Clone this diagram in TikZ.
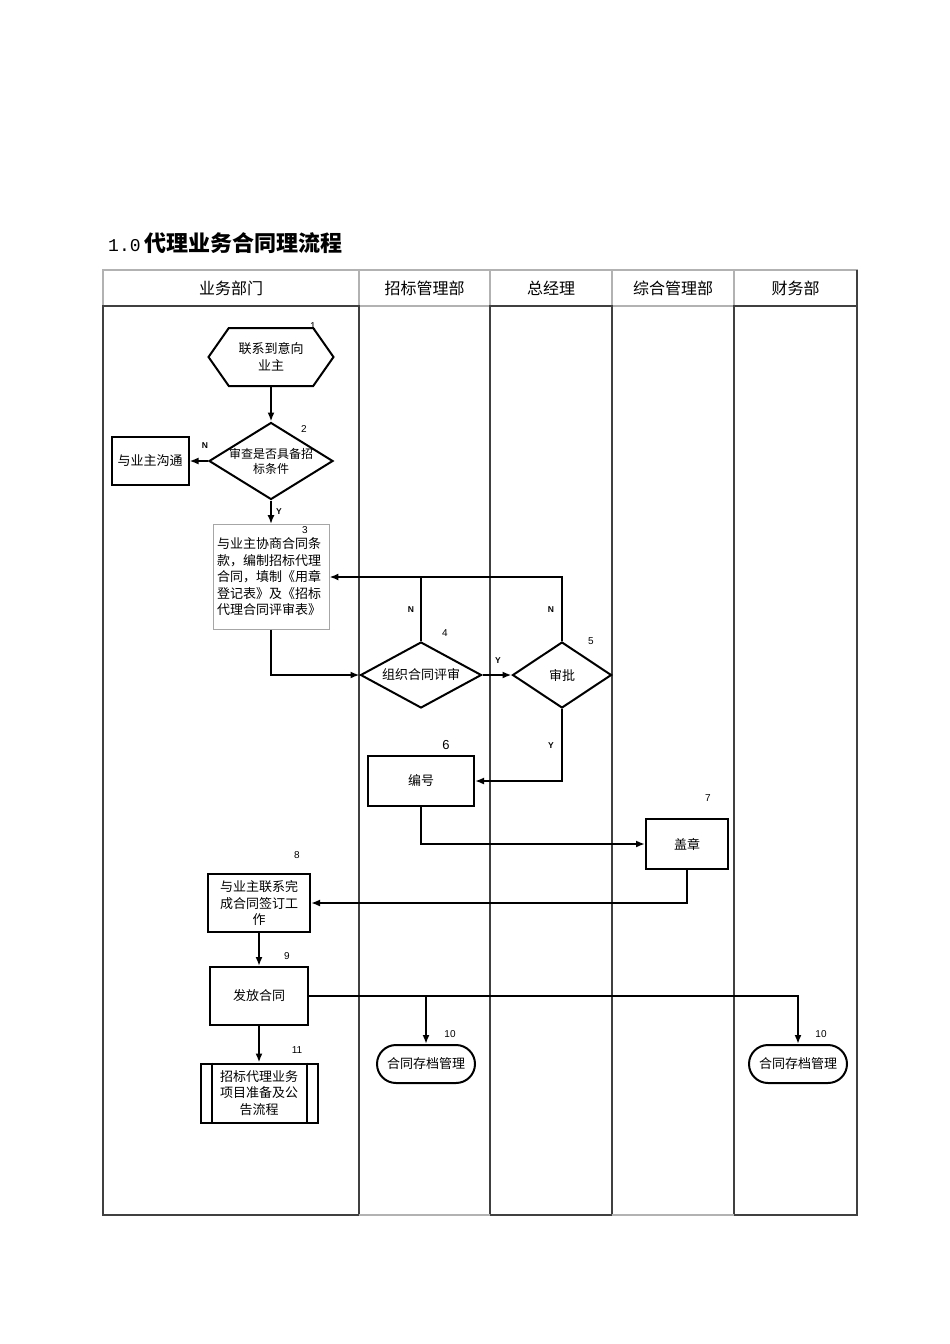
\documentclass[tikz,border=0pt]{standalone}
\usepackage{fontspec}
\setmainfont{Liberation Sans}
\setmonofont{Liberation Mono}
\newfontfamily\cjk{Noto Sans CJK SC}
\usepackage{tikz}
\usetikzlibrary{arrows.meta,shapes.geometric,shapes.misc,shapes.symbols}

\begin{document}
\begin{tikzpicture}[x=1pt,y=1pt,yscale=-1,xscale=1,
    lane/.style={draw=black!75,line width=1.8pt},
    head/.style={draw=black!30,line width=1.8pt},
    headtext/.style={font=\cjk\fontsize{16}{18}\selectfont},
    txt/.style={font=\cjk\fontsize{13}{16.5}\selectfont,align=center},
    smalltxt/.style={font=\cjk\fontsize{12}{15}\selectfont,align=center},
    proc/.style={txt,draw,line width=2pt,inner sep=2pt},
    hexa/.style={txt,draw,line width=2pt,signal,signal to=east and west,signal pointer angle=110,inner sep=0pt},
    decide/.style={draw,line width=2pt,diamond,inner sep=0pt},
    term/.style={txt,draw,line width=2pt,rounded rectangle,minimum width=98,minimum height=38,inner sep=0pt},
    num/.style={font=\fontsize{10}{12}\selectfont,inner sep=0pt},
    yn/.style={font=\fontsize{8.5}{10}\selectfont\bfseries,inner sep=0pt},
    conn/.style={line width=2pt},
    arr/.style={conn,-{Latex[length=9pt,width=7pt]}}]
    \useasboundingbox (0,0) rectangle (950,1344);

    \node [anchor=west,inner sep=0pt] (title) at (108,243) {{\ttfamily\fontsize{18}{20}\selectfont 1.0}\hspace{4pt}{\cjk\bfseries\fontsize{22}{24}\selectfont 代理业务合同理流程}};

    \draw [head] (103,270) rectangle (857,306);
    \draw [head] (359,270) -- (359,306) (490,270) -- (490,306) (612,270) -- (612,306) (734,270) -- (734,306);
    \draw [lane] (103,306) rectangle (359,1215);
    \draw [lane] (490,306) rectangle (612,1215);
    \draw [lane] (734,306) rectangle (857,1215);
    \draw [lane] (857,270) -- (857,306);
    \draw [head] (359,1215) -- (490,1215) (612,1215) -- (734,1215);

    \node [headtext] (lane1) at (231,288) {业务部门};
    \node [headtext] (lane2) at (424.5,288) {招标管理部};
    \node [headtext] (lane3) at (551,288) {总经理};
    \node [headtext] (lane4) at (673,288) {综合管理部};
    \node [headtext] (lane5) at (795.5,288) {财务部};

    \node [hexa,minimum width=125,minimum height=58] (n1) at (271,357) {联系到意向\\业主};
    \node [decide,minimum width=124,minimum height=77,label={[smalltxt]center:审查是否具备招\\标条件}] (n2) at (271,461) {};
    \node [proc,minimum width=77,minimum height=48] (talk) at (150,461) {与业主沟通};
    \node [txt,draw=black!35,line width=0.8pt,text width=108,align=left,minimum height=105,inner sep=4pt] (n3) at (271,577) {与业主协商合同条\\款，编制招标代理\\合同，填制《用章\\登记表》及《招标\\代理合同评审表》};
    \node [decide,minimum width=121,minimum height=66,label={[txt]center:组织合同评审}] (n4) at (421,675) {};
    \node [decide,minimum width=99,minimum height=66,label={[txt]center:审批}] (n5) at (562,675) {};
    \node [proc,minimum width=106,minimum height=50] (n6) at (421,781) {编号};
    \node [proc,minimum width=82,minimum height=50] (n7) at (687,844) {盖章};
    \node [proc,minimum width=102,minimum height=58] (n8) at (259,903) {与业主联系完\\成合同签订工\\作};
    \node [proc,minimum width=98,minimum height=58] (n9) at (259,996) {发放合同};
    \node [term] (n10a) at (426,1064) {合同存档管理};
    \node [term] (n10b) at (798,1064) {合同存档管理};
    \node [proc,minimum width=117,minimum height=59] (n11) at (259,1093) {招标代理业务\\项目准备及公\\告流程};
    \draw [conn] ([xshift=12]n11.north west) -- ([xshift=12]n11.south west) ([xshift=-12]n11.north east) -- ([xshift=-12]n11.south east);

    \node [num] (k1) at (313,326) {1};
    \node [num] (k2) at (304,429) {2};
    \node [num] (k3) at (305,530) {3};
    \node [num] (k4) at (445,633) {4};
    \node [num] (k5) at (591,641) {5};
    \node [num,font=\fontsize{13}{15}\selectfont] (k6) at (446,745) {6};
    \node [num] (k7) at (708,798) {7};
    \node [num] (k8) at (297,855) {8};
    \node [num] (k9) at (287,956) {9};
    \node [num] (k10a) at (450,1034) {10};
    \node [num] (k10b) at (821,1034) {10};
    \node [num] (k11) at (297,1050) {11};

    \node [yn] (no2) at (205,446) {N};
    \node [yn] (yes2) at (279,512) {Y};
    \node [yn] (no4) at (411,610) {N};
    \node [yn] (no5) at (551,610) {N};
    \node [yn] (yes4) at (498,661) {Y};
    \node [yn] (yes5) at (551,746) {Y};

    \draw [arr] (n1.south) -- (n2.north);
    \draw [arr] (n2.west) -- (talk.east);
    \draw [arr] (n2.south) -- (n3.north);
    \draw [arr] (n3.south) |- (n4.west);
    \draw [conn] (n4.north) -- (n4.north |- n3.east);
    \draw [arr] (n5.north) |- (n3.east);
    \draw [arr] (n4.east) -- (n5.west);
    \draw [arr] (n5.south) |- (n6.east);
    \draw [arr] (n6.south) |- (n7.west);
    \draw [arr] (n7.south) |- (n8.east);
    \draw [arr] (n8.south) -- (n9.north);
    \draw [arr] (n9.east) -| (n10b.north);
    \draw [arr] (n9.east -| n10a.north) -- (n10a.north);
    \draw [arr] (n9.south) -- (n11.north);
\end{tikzpicture}
\end{document}
